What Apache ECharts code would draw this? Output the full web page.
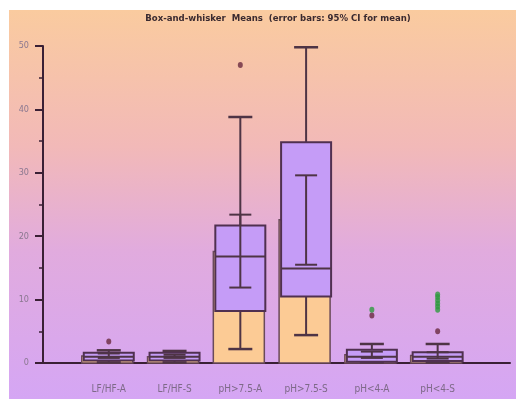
<!DOCTYPE html>
<html>
<head>
<meta charset="utf-8">
<script src="https://cdn.jsdelivr.net/npm/echarts@6/dist/echarts.min.js"></script>
<style>
    html, body { margin: 0; padding: 0; background: #fff; }
    #BoxMeans { width: 516px; height: 399px; }
</style>
</head>
<body>
<div id="BoxMeans"></div>
<script>
// 数据
const categories = ['LF/HF-A', 'LF/HF-S', 'pH>7.5-A', 'pH>7.5-S', 'pH<4-A', 'pH<4-S'];
const means = [1.1, 1.0, 17.6, 22.6, 1.3, 1.2];
const ciLow = [0.8, 0.8, 11.9, 15.5, 0.8, 0.7];
const ciHigh = [1.5, 1.3, 23.4, 29.6, 1.8, 1.7];
const whiskerLow = [0.1, 0.1, 2.2, 4.4, 0.1, 0.1];
const q1 = [0.4, 0.4, 8.2, 10.5, 0.2, 0.3];
const medians = [1.0, 1.0, 16.8, 14.9, 1.0, 1.0];
const q3 = [1.6, 1.6, 21.7, 34.8, 2.1, 1.7];
const whiskerHigh = [2.0, 1.9, 38.8, 49.8, 3.0, 3.0];
const outliers = [[0, 3.4], [2, 47], [4, 7.5], [5, 5.0]];
const farOutliers = [[4, 8.4], [5, 8.4], [5, 8.9], [5, 9.4], [5, 9.9], [5, 10.4], [5, 10.8]];
const yTicks = [0, 10, 20, 30, 40, 50];

let chartInstance = echarts.init(document.getElementById('BoxMeans'));

const lineColor = '#4e3445';
const rows = categories.map((c, i) => [i, means[i], ciLow[i], ciHigh[i], whiskerLow[i], q1[i], medians[i], q3[i], whiskerHigh[i]]);

const hLine = (x1, x2, y, w) => ({ type: 'line', shape: { x1: x1, y1: y, x2: x2, y2: y }, style: { stroke: lineColor, lineWidth: w || 2 } });
const vLine = (x, y1, y2) => ({ type: 'line', shape: { x1: x, y1: y1, x2: x, y2: y2 }, style: { stroke: lineColor, lineWidth: 2 } });

function renderBox(params, api) {
    const i = api.value(0);
    const x = api.coord([i, 0])[0];
    const y = v => api.coord([i, v])[1];
    const half = 25;
    const y0 = y(0);
    const yMean = y(api.value(1)), yLo = y(api.value(2)), yHi = y(api.value(3));
    const yMin = y(api.value(4)), yQ1 = y(api.value(5)), yMed = y(api.value(6)), yQ3 = y(api.value(7)), yMax = y(api.value(8));
    return {
        type: 'group',
        children: [
            { type: 'rect', shape: { x: x - half - 2, y: yMean, width: half * 2 + 1, height: y0 - yMean }, style: { fill: '#fccb95', stroke: '#6a4a5a', lineWidth: 1.5 } },
            vLine(x, yQ3, yMax),
            vLine(x, yQ1, yMin),
            hLine(x - 12, x + 12, yMax, 2.5),
            hLine(x - 12, x + 12, yMin, 2.5),
            { type: 'rect', shape: { x: x - half, y: yQ3, width: half * 2, height: yQ1 - yQ3 }, style: { fill: '#c59cf7', stroke: '#503050', lineWidth: 2 } },
            hLine(x - half, x + half, yMed, 2),
            vLine(x, yHi, yLo),
            hLine(x - 11, x + 11, yHi, 2),
            hLine(x - 11, x + 11, yLo, 2)
        ]
    };
}

var option = {
    animation: false,
    graphic: {
        elements: [{
            type: 'rect',
            z: -100,
            shape: { x: 9, y: 10, width: 507, height: 389 },
            style: {
                fill: new echarts.graphic.LinearGradient(0, 0, 0, 1, [
                    { offset: 0, color: '#facb9f' },
                    { offset: 0.35, color: '#f2b9b8' },
                    { offset: 0.62, color: '#e1abde' },
                    { offset: 1, color: '#d5a6f4' }
                ])
            }
        }]
    },
    title: {
        text: 'Box-and-whisker  Means  (error bars: 95% CI for mean)',
        left: 273,
        textAlign: 'center',
        top: 9,
        textStyle: { fontSize: 9.5, fontWeight: 'bold', fontFamily: 'DejaVu Sans Condensed', color: '#3a2a30' }
    },
    grid: { left: 43, right: 6, top: 46, bottom: 36 },
    xAxis: {
        type: 'value',
        min: -1,
        max: 6.1,
        splitLine: { show: false },
        axisTick: { show: false },
        axisLine: { show: true, onZero: false, lineStyle: { color: '#3a2035', width: 2 } },
        axisLabel: {
            customValues: [0, 1, 2, 3, 4, 5],
            formatter: v => categories[Math.round(v)],
            color: '#7e6a88',
            fontSize: 10,
            margin: 21,
            fontFamily: 'DejaVu Sans Condensed'
        }
    },
    yAxis: {
        type: 'value',
        min: 0,
        max: 50,
        interval: 10,
        splitLine: { show: false },
        axisLine: { show: true, onZero: false, lineStyle: { color: '#3a2035', width: 2 } },
        axisTick: { show: true, length: 8, lineStyle: { color: '#3a2035', width: 2 } },
        minorTick: { show: true, splitNumber: 2, length: 4, lineStyle: { color: '#3a2035', width: 1.5 } },
        axisLabel: {
            customValues: yTicks,
            color: '#8a7890',
            fontSize: 9,
            margin: 14,
            fontFamily: 'DejaVu Sans Condensed'
        }
    },
    series: [
        {
            type: 'custom',
            renderItem: renderBox,
            encode: { x: 0, y: [1, 2, 3, 4, 5, 6, 7, 8] },
            data: rows,
            z: 3
        },
        {
            type: 'scatter',
            data: outliers,
            symbol: 'circle',
            symbolSize: [5, 6],
            itemStyle: { color: '#6a2a40' },
            z: 5
        },
        {
            type: 'scatter',
            data: farOutliers,
            symbol: 'circle',
            symbolSize: [5, 6],
            itemStyle: { color: '#2f9a40' },
            z: 5
        }
    ]
};
chartInstance.setOption(option);
</script>
</body>
</html>
